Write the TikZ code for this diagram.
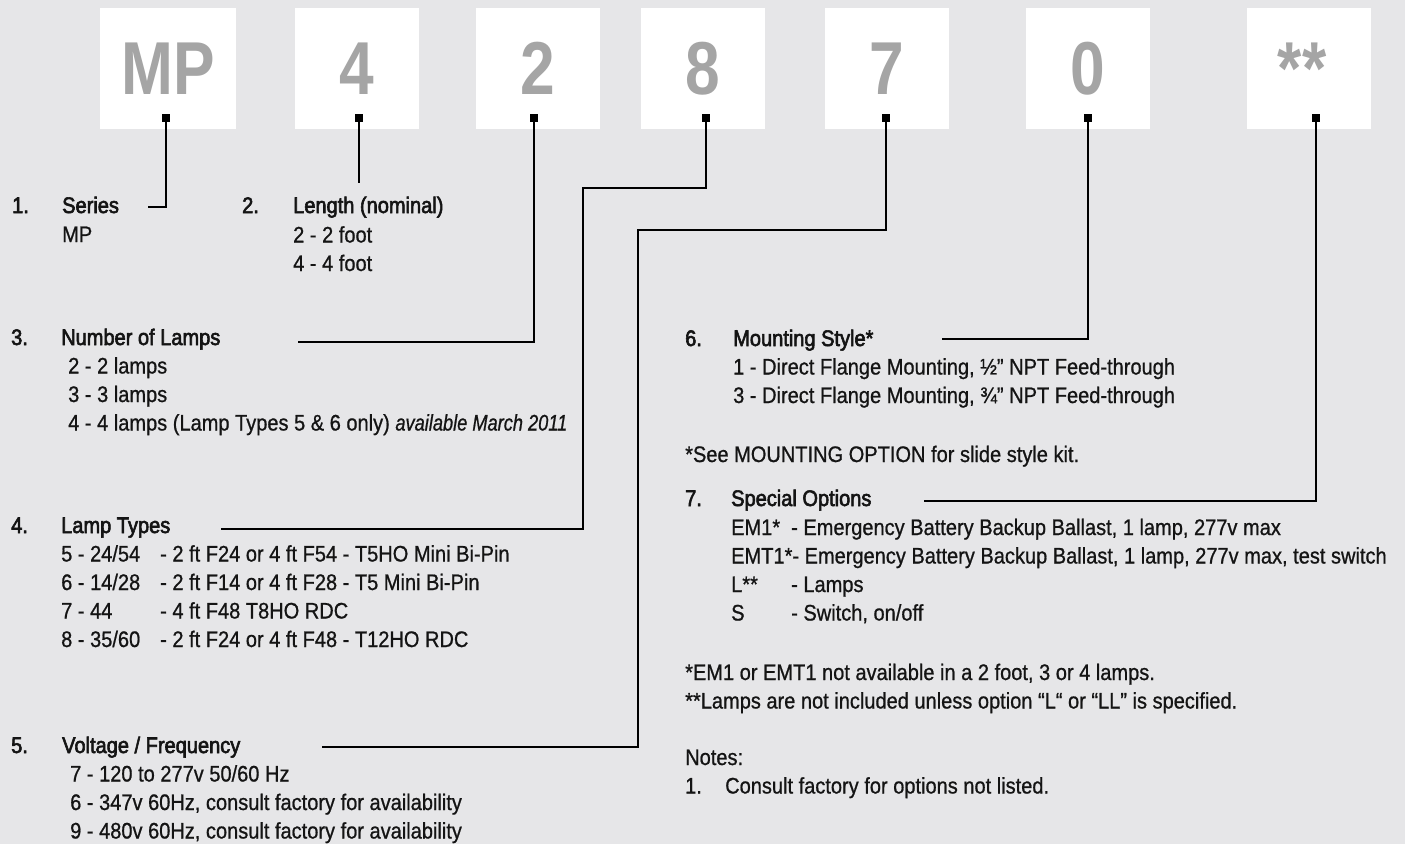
\documentclass[tikz,border=0pt]{standalone}
\usepackage{fontspec}
\setmainfont{Liberation Sans}[FakeStretch=0.89,FakeBold=0.8]
\newfontfamily\headfont{Liberation Sans}[FakeStretch=0.89,FakeBold=2.6]
\newfontfamily\narrowit{Liberation Sans}[FakeStretch=0.81,FakeBold=0.8]
\newfontfamily\bigfont{Liberation Sans}[FakeStretch=0.83]
\usepackage{tikz}
\usetikzlibrary{positioning}
\definecolor{bgc}{RGB}{230,230,232}
\definecolor{glyphc}{RGB}{165,165,165}
\definecolor{inkc}{RGB}{20,20,20}

\begin{document}
\begin{tikzpicture}[x=1pt,y=-1pt,
   dbox/.style={fill=white,minimum width=124pt,minimum height=121pt,inner sep=0pt,
                text=glyphc,font=\bigfont\bfseries\fontsize{75}{75}\selectfont},
   pin/.style={fill=black,minimum size=8pt,inner sep=0pt},
   ln/.style={line width=2.6pt,draw=black},
   txt/.style={anchor=base west,inner sep=0pt,text=inkc,font=\fontsize{22.5}{26}\selectfont},
   hd/.style={txt,font=\headfont\fontsize{22.5}{26}\selectfont}]
\fill[bgc] (0,0) rectangle (1405,844);
%% ---- code boxes ----
\node[dbox,minimum width=136pt] (bMP) at (168,68.5) {MP};
\node[dbox] (b4) at (357,68.5) {4};
\node[dbox] (b2) at (537.5,68.5) {2};
\node[dbox] (b8) at (703,68.5) {8};
\node[dbox] (b7) at (886.5,68.5) {7};
\node[dbox] (b0) at (1088,68.5) {0};
\node[dbox] (bOpt) at (1309,68.5) {\hspace*{-14pt}**};
%% ---- left column ----
\node[hd] (n1) at (12,213) {1.};
\node[hd] (hSeries) at (62,213) {Series};
\node[txt] (tMP) at (62,242) {MP};
\node[hd] (n2) at (242,213) {2.};
\node[hd] (hLen) at (293,213) {Length (nominal)};
\node[txt] (tLen0) at (293,242.5) {2 - 2 foot};
\node[txt] (tLen1) at (293,271) {4 - 4 foot};
\node[hd] (n3) at (11,345) {3.};
\node[hd] (hLamps) at (61,345) {Number of Lamps};
\foreach \t [count=\i from 0] in {2 - 2 lamps,3 - 3 lamps,
   4 - 4 lamps (Lamp Types 5 \& 6 only) {\narrowit\itshape available March 2011}}
  \node[txt] (tLamps\i) at (68,373.5+28.5*\i) {\t};
\node[hd] (n4) at (11,533) {4.};
\node[hd] (hTypes) at (61,533) {Lamp Types};
\node[txt] (tTypes0) at (61,561.5) {\makebox[99pt][l]{5 - 24/54}- 2 ft F24 or 4 ft F54 - T5HO Mini Bi-Pin};
\node[txt] (tTypes1) at (61,590) {\makebox[99pt][l]{6 - 14/28}- 2 ft F14 or 4 ft F28 - T5 Mini Bi-Pin};
\node[txt] (tTypes2) at (61,618.5) {\makebox[99pt][l]{7 - 44}- 4 ft F48 T8HO RDC};
\node[txt] (tTypes3) at (61,647) {\makebox[99pt][l]{8 - 35/60}- 2 ft F24 or 4 ft F48 - T12HO RDC};
\node[hd] (n5) at (11,753) {5.};
\node[hd] (hVolt) at (62,753) {Voltage / Frequency};
\foreach \t [count=\i from 0] in {7 - 120 to 277v 50/60 Hz,
   {6 - 347v 60Hz, consult factory for availability},
   {9 - 480v 60Hz, consult factory for availability}}
  \node[txt] (tVolt\i) at (70,781.5+28.5*\i) {\t};
%% ---- right column ----
\node[hd] (n6) at (685,346) {6.};
\node[hd] (hMount) at (733,346) {Mounting Style*};
\node[txt] (tMount0) at (733,374.5) {1 - Direct Flange Mounting, ½” NPT Feed-through};
\node[txt] (tMount1) at (733,403) {3 - Direct Flange Mounting, ¾” NPT Feed-through};
\node[txt] (tSee) at (685,462) {*See MOUNTING OPTION for slide style kit.};
\node[hd] (n7) at (685,506) {7.};
\node[hd] (hSpec) at (731,506) {Special Options};
\node[txt] (tSpec0) at (731,535) {\makebox[60pt][l]{EM1*}- Emergency Battery Backup Ballast, 1 lamp, 277v max};
\node[txt] (tSpec1) at (731,563.5) {EMT1*- Emergency Battery Backup Ballast, 1 lamp, 277v max, test switch};
\node[txt] (tSpec2) at (731,592) {\makebox[60pt][l]{L**}- Lamps};
\node[txt] (tSpec3) at (731,620.5) {\makebox[60pt][l]{S}- Switch, on/off};
\node[txt] (tFoot0) at (685,680) {*EM1 or EMT1 not available in a 2 foot, 3 or 4 lamps.};
\node[txt] (tFoot1) at (685,708.5) {**Lamps are not included unless option “L“ or “LL” is specified.};
\node[txt] (tNotes) at (685,765) {Notes:};
\node[txt] (nN1) at (685,793.5) {1.};
\node[txt] (tN1) at (725,793.5) {Consult factory for options not listed.};
%% ---- connectors ----
\coordinate (eSeries) at (148,207);
\coordinate (eLen) at (359,183);
\coordinate (eLamps) at (298,342);
\coordinate (k8) at (583,188);
\coordinate (eTypes) at (221,529);
\coordinate (k7) at (638,230);
\coordinate (eVolt) at (322,747);
\coordinate (eMount) at (942,339);
\coordinate (eSpec) at (924,501);
\node[pin] (pMP) at (166,118) {};
\node[pin] (p4) at (359,118) {};
\node[pin] (p2) at (534,118) {};
\node[pin] (p8) at (706,118) {};
\node[pin] (p7) at (886,118) {};
\node[pin] (p0) at (1088,118) {};
\node[pin] (pOpt) at (1316,118) {};
\draw[ln] (pMP) |- (eSeries);
\draw[ln] (p4) -- (eLen);
\draw[ln] (p2) |- (eLamps);
\draw[ln] (p8) |- (k8) |- (eTypes);
\draw[ln] (p7) |- (k7) |- (eVolt);
\draw[ln] (p0) |- (eMount);
\draw[ln] (pOpt) |- (eSpec);
\end{tikzpicture}
\end{document}
